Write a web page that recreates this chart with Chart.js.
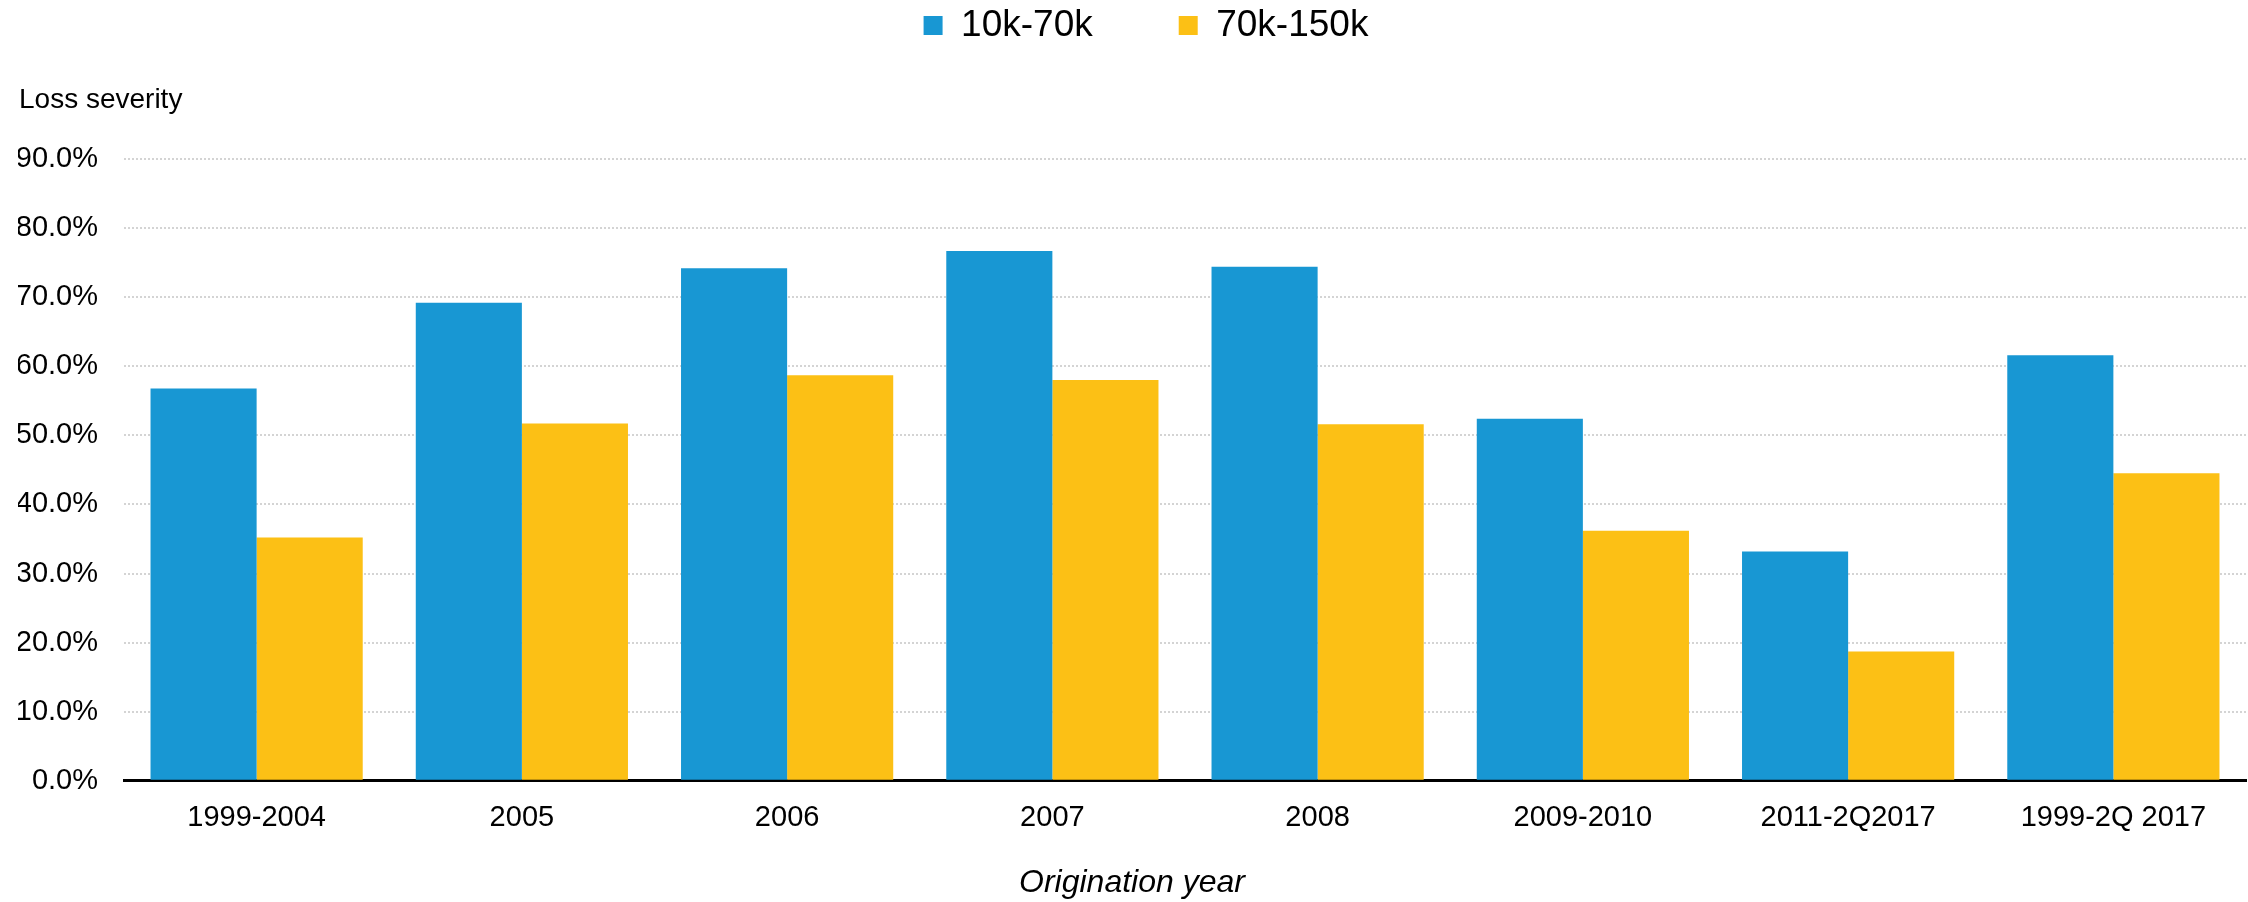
<!DOCTYPE html>
<html>
<head>
<meta charset="utf-8">
<script src="https://cdn.jsdelivr.net/npm/chart.js@4/dist/chart.umd.min.js"></script>
<style>
  html, body { margin: 0; padding: 0; background: #fff; }
  #chart { display: block; }
</style>
</head>
<body>
<canvas id="chart" width="2248" height="902"></canvas>
<script>
// origination year buckets
var categories = ['1999-2004', '2005', '2006', '2007', '2008', '2009-2010', '2011-2Q2017', '1999-2Q 2017'];

// loss severity, percent
var lowBand  = [56.8, 69.2, 74.2, 76.7, 74.4, 52.4, 33.2, 61.6];   // 10k-70k
var highBand = [35.2, 51.7, 58.7, 58.0, 51.6, 36.2, 18.7, 44.5];   // 70k-150k

var seriesNames = ['10k-70k', '70k-150k'];
var yTicks = [0, 10, 20, 30, 40, 50, 60, 70, 80, 90];

var FONT = '"Liberation Sans", Arial, sans-serif';
var LEGEND_PAD = 86;

// legend items need wide horizontal spacing, so pull the legend box back up after layout
var legendLift = {
    id: 'legendLift',
    afterLayout: function (chart) {
        var lg = chart.legend;
        if (!lg) return;
        var dy = lg.top + LEGEND_PAD - 7;
        lg.top -= dy;
        lg.bottom -= dy;
        lg.left += 14;
        lg.right += 14;
    }
};

// "Loss severity" label sitting above the y axis
var yLabel = {
    id: 'yLabel',
    afterDraw: function (chart) {
        var ctx = chart.ctx;
        ctx.save();
        ctx.font = '28px ' + FONT;
        ctx.fillStyle = '#000';
        ctx.textAlign = 'left';
        ctx.textBaseline = 'middle';
        ctx.fillText('Loss severity', 19, 100);
        ctx.restore();
    }
};

new Chart(document.getElementById('chart'), {
    type: 'bar',
    data: {
        labels: categories,
        datasets: [{
            label: seriesNames[0],
            data: lowBand,
            backgroundColor: '#1897D3',
            borderWidth: 0,
            categoryPercentage: 0.8,
            barPercentage: 1.0
        }, {
            label: seriesNames[1],
            data: highBand,
            backgroundColor: '#FCC015',
            borderWidth: 0,
            categoryPercentage: 0.8,
            barPercentage: 1.0
        }]
    },
    options: {
        responsive: false,
        devicePixelRatio: 1,
        animation: false,
        layout: { padding: { left: 18, right: 2, top: 26, bottom: 0 } },
        plugins: {
            tooltip: { enabled: false },
            legend: {
                position: 'top',
                labels: {
                    boxWidth: 19,
                    boxHeight: 19,
                    padding: LEGEND_PAD,
                    color: '#000',
                    font: { family: FONT, size: 37 }
                }
            },
            title: {
                display: true,
                position: 'bottom',
                text: 'Origination year',
                color: '#000',
                font: { family: FONT, size: 32, style: 'italic', weight: 'normal' },
                padding: { top: 8, bottom: 0 }
            }
        },
        scales: {
            x: {
                z: 1,
                grid: { display: false, drawTicks: false },
                border: { display: true, color: '#000', width: 3 },
                ticks: {
                    color: '#000',
                    padding: 20,
                    font: { family: FONT, size: 29 }
                }
            },
            y: {
                min: 0,
                max: 90,
                afterBuildTicks: function (axis) {
                    axis.ticks = yTicks.map(function (v) { return { value: v }; });
                },
                afterFit: function (axis) { axis.width = 106; },
                grid: { color: '#d4d4d4', lineWidth: 2, drawTicks: false },
                border: { display: false, dash: [2, 2] },
                ticks: {
                    color: '#000',
                    padding: 26,
                    font: { family: FONT, size: 29 },
                    callback: function (v) { return v.toFixed(1) + '%'; }
                }
            }
        }
    },
    plugins: [legendLift, yLabel]
});
</script>
</body>
</html>
